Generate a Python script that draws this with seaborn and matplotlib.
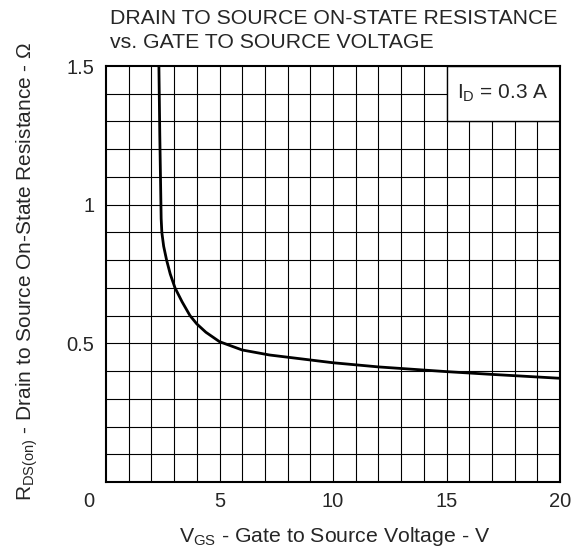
import numpy as np
import pandas as pd
import matplotlib
matplotlib.use("Agg")
import matplotlib.pyplot as plt
import seaborn as sns
from matplotlib.patches import Rectangle
from matplotlib.transforms import offset_copy

# Data
vgs = [2.33, 2.37, 2.40, 2.42, 2.43, 2.46, 2.54, 2.67, 2.83, 3.04, 3.35, 3.7, 4.0, 4.4, 5.0, 6.0, 7.2, 8.5, 10.0, 12.0, 15.0, 17.0, 20.0]
rds = [1.5, 1.25, 1.1, 1.0, 0.95, 0.9, 0.85, 0.8, 0.75, 0.7, 0.65, 0.6, 0.57, 0.54, 0.506, 0.476, 0.458, 0.445, 0.43, 0.415, 0.398, 0.388, 0.374]
xticks = [5, 10, 15, 20]
yticks = [0.5, 1.0, 1.5]
ytick_labels = ["0.5", "1", "1.5"]
title_lines = ["DRAIN TO SOURCE ON-STATE RESISTANCE", "vs. GATE TO SOURCE VOLTAGE"]

sns.set_style("white")
plt.rcParams['font.family'] = ['Liberation Sans', 'DejaVu Sans']
plt.rcParams['mathtext.fontset'] = 'custom'
plt.rcParams['mathtext.rm'] = 'Liberation Sans'
plt.rcParams['mathtext.it'] = 'Liberation Sans'

W, H = 580, 549
fig = plt.figure(figsize=(W/100, H/100), dpi=100)
ax = fig.add_axes([106/W, 1-482/H, (560-106)/W, (482-66)/H])

df = pd.DataFrame({"VGS": vgs, "RDS": rds})
sns.lineplot(data=df, x="VGS", y="RDS", ax=ax, color="black", lw=2.0, sort=False, zorder=3)

ax.set_xlim(0, 20)
ax.set_ylim(0, 1.5)
for xv in np.arange(1, 20):
    ax.axvline(xv, color="black", lw=0.8, zorder=1)
for yv in np.arange(0.1, 1.5, 0.1):
    ax.axhline(yv, color="black", lw=0.8, zorder=1)

# ID box
ax.add_patch(Rectangle((15, 1.3), 5, 0.2, facecolor="white", edgecolor="black", lw=1.0, zorder=2))
ax.text(17.5, 1.4, r"I$\mathregular{_D}$ = 0.3 A", ha="center", va="center", fontsize=15, zorder=4)

FS = 14.5
ax.set_xticks(xticks)
ax.set_xticklabels([str(t) for t in xticks], fontsize=FS)
ax.set_yticks(yticks)
ax.set_yticklabels(ytick_labels, fontsize=FS)
ax.tick_params(axis="both", length=0)
ax.tick_params(axis="y", pad=8.5)
ax.tick_params(axis="x", pad=7)
ax.text(0, 0, "0", transform=offset_copy(ax.transData, fig=fig, x=-17, y=-10, units="dots"),
        ha="center", va="top", fontsize=FS)
ax.set_xlabel("")
ax.set_ylabel("")

for s in ax.spines.values():
    s.set_visible(True)
    s.set_color("black")
    s.set_linewidth(1.5)
    s.set_zorder(5)

fig.text(335/W, 1-542/H, r"V$\mathregular{_{GS}}$ - Gate to Source Voltage - V",
         ha="center", va="baseline", fontsize=15.3)
fig.text(32/W, 1-271/H, r"R$\mathregular{_{DS(on)}}$ - Drain to Source On-State Resistance - Ω",
         ha="center", va="baseline", rotation=90, rotation_mode="anchor", fontsize=15)

fig.text(110/W, 1-24/H, title_lines[0], ha="left", va="baseline", fontsize=15.3)
fig.text(110/W, 1-48/H, title_lines[1], ha="left", va="baseline", fontsize=15.3)

fig.savefig("out.png", dpi=100)
